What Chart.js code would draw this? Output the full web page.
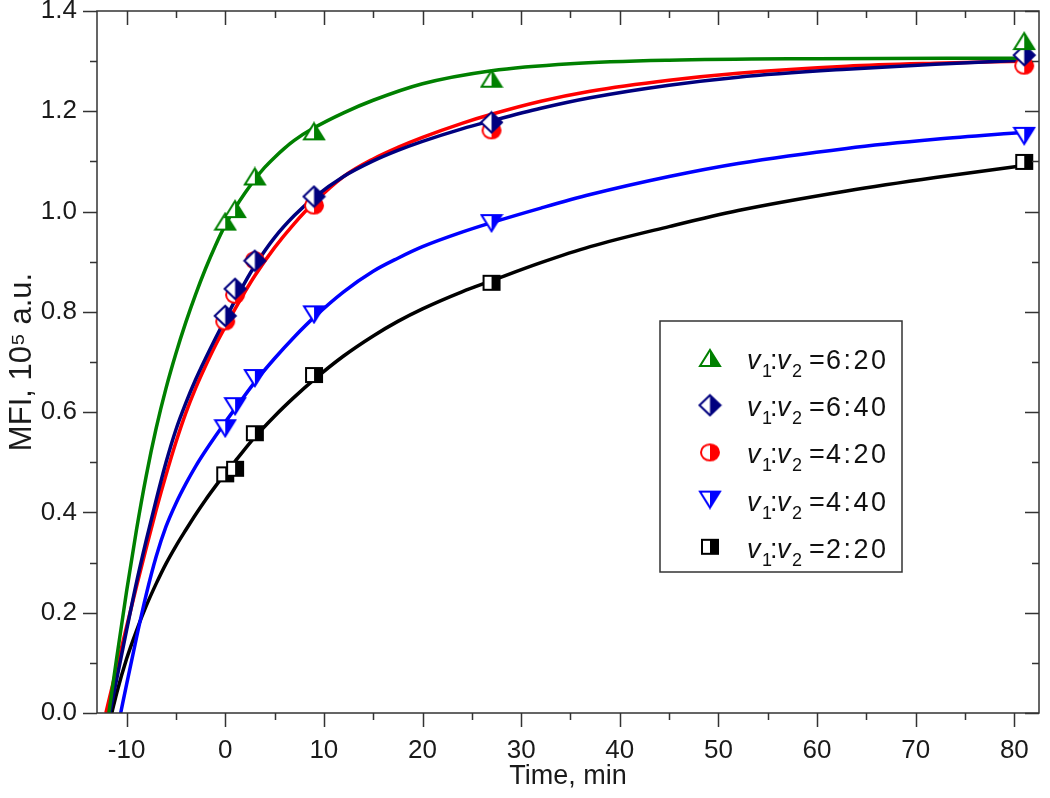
<!DOCTYPE html>
<html>
<head>
<meta charset="utf-8">
<script src="https://cdn.jsdelivr.net/npm/chart.js@4.4.1/dist/chart.umd.min.js"></script>
<style>
  html, body { margin: 0; padding: 0; background: #fff; }
</style>
</head>
<body>
<canvas id="chart" width="1050" height="798"></canvas>
<script>
// sampling times, min
const timePoints = [0, 1, 3, 9, 27, 81];

// measured MFI, 10^5 a.u.
const mfi_6_20 = [0.98, 1.005, 1.07, 1.16, 1.265, 1.34];
const mfi_6_40 = [0.792, 0.846, 0.902, 1.03, 1.178, 1.312];
const mfi_4_20 = [0.781, 0.834, 0.903, 1.012, 1.162, 1.291];
const mfi_4_40 = [0.568, 0.612, 0.668, 0.795, 0.977, 1.151];
const mfi_2_20 = [0.476, 0.487, 0.558, 0.674, 0.858, 1.099];

// fitted curves
const fitX_6_20 = [-11.8, -11, -10, -9, -8, -7, -6, -5, -4, -3, -2, -1, 0, 1, 2, 3, 4, 5, 6, 7, 9, 12, 15, 20, 27, 35, 45, 60, 81];
const fitY_6_20 = [0, 0.11, 0.243, 0.365, 0.474, 0.568, 0.648, 0.717, 0.779, 0.835, 0.886, 0.932, 0.973, 1.007, 1.037, 1.064, 1.088, 1.108, 1.126, 1.142, 1.167, 1.197, 1.222, 1.255, 1.281, 1.295, 1.302, 1.305, 1.306];
const fitX_6_40 = [-11.7, -11, -10, -9, -8, -7, -6, -5, -4, -3, -2, -1, 0, 1, 2, 3, 5, 7, 9, 12, 15, 17.5, 20, 24, 27, 32, 37, 45, 52, 63, 72, 81];
const fitY_6_40 = [0, 0.068, 0.165, 0.26, 0.345, 0.425, 0.5, 0.565, 0.618, 0.665, 0.707, 0.747, 0.785, 0.823, 0.859, 0.892, 0.948, 0.992, 1.028, 1.07, 1.101, 1.122, 1.14, 1.165, 1.181, 1.206, 1.227, 1.252, 1.268, 1.284, 1.294, 1.302];
const fitX_4_20 = [-12.1, -11, -10, -9, -8, -7, -6, -5, -4, -3, -2, -1, 0, 1, 2, 3, 5, 7, 9, 12, 15, 17.5, 20, 24, 27, 32, 37, 45, 52, 63, 72, 81];
const fitY_4_20 = [0, 0.09, 0.172, 0.252, 0.33, 0.405, 0.475, 0.54, 0.598, 0.648, 0.692, 0.733, 0.77, 0.806, 0.84, 0.872, 0.928, 0.976, 1.018, 1.07, 1.105, 1.128, 1.148, 1.176, 1.194, 1.22, 1.24, 1.262, 1.276, 1.29, 1.296, 1.30];
const fitX_4_40 = [-10.6, -10, -9, -8, -7, -6, -5, -4, -3, -2, -1, 0, 1, 3, 5, 7, 9, 12, 15, 17.5, 20, 24, 27, 32, 37, 45, 52, 63, 72, 81];
const fitY_4_40 = [0, 0.057, 0.15, 0.237, 0.312, 0.372, 0.418, 0.457, 0.492, 0.523, 0.552, 0.58, 0.607, 0.66, 0.707, 0.75, 0.789, 0.84, 0.881, 0.907, 0.93, 0.959, 0.978, 1.007, 1.034, 1.07, 1.096, 1.126, 1.144, 1.158];
const fitX_2_20 = [-11.5, -11, -10, -9, -8, -7, -6, -5, -4, -3, -2, -1, 0, 1, 3, 5, 7, 9, 12, 15, 17.5, 20, 24, 27, 32, 37, 45, 52, 63, 72, 81];
const fitY_2_20 = [0, 0.04, 0.108, 0.164, 0.214, 0.258, 0.298, 0.333, 0.365, 0.396, 0.425, 0.452, 0.478, 0.502, 0.55, 0.592, 0.63, 0.665, 0.712, 0.752, 0.781, 0.806, 0.84, 0.862, 0.898, 0.93, 0.97, 1.002, 1.041, 1.068, 1.092];

const ratioLabels = ["6:20", "6:40", "4:20", "4:40", "2:20"];
const seriesColors = ["#008000", "#00007f", "#ff0000", "#0000ff", "#000000"];
const markerShapes = ["triUp", "diamond", "circle", "triDown", "square"];

const xMajorTicks = [-10, 0, 10, 20, 30, 40, 50, 60, 70, 80];
const xMinorTicks = [-5, 5, 15, 25, 35, 45, 55, 65, 75];
const yMajorTicks = [0, 0.2, 0.4, 0.6, 0.8, 1.0, 1.2, 1.4];
const yMinorTicks = [0.1, 0.3, 0.5, 0.7, 0.9, 1.1, 1.3];

const FONT = "'Liberation Sans', Arial, sans-serif";
Chart.defaults.font.family = FONT;
Chart.defaults.color = "#1a1a1a";

// half-filled symbols: open on the left, solid on the right
function makeMarker(shape, color) {
  const sizes = { triUp: [20, 16], diamond: [21, 20], circle: [18, 16], triDown: [20, 16], square: [16, 14] };
  const [w, h] = sizes[shape];
  const c = document.createElement("canvas");
  c.width = w + 4;
  c.height = h + 4;
  const g = c.getContext("2d");
  const l = 2, t = 2, r = 2 + w, b = 2 + h, cx = 2 + w / 2, cy = 2 + h / 2;
  const path = () => {
    g.beginPath();
    if (shape === "triUp") { g.moveTo(cx, t); g.lineTo(r, b); g.lineTo(l, b); g.closePath(); }
    else if (shape === "triDown") { g.moveTo(l, t); g.lineTo(r, t); g.lineTo(cx, b); g.closePath(); }
    else if (shape === "diamond") { g.moveTo(cx, t); g.lineTo(r, cy); g.lineTo(cx, b); g.lineTo(l, cy); g.closePath(); }
    else if (shape === "circle") { g.ellipse(cx, cy, w / 2, h / 2, 0, 0, Math.PI * 2); }
    else { g.rect(l, t, w, h); }
  };
  path();
  g.fillStyle = "#fff";
  g.fill();
  g.save();
  g.beginPath();
  g.rect(cx, 0, c.width, c.height);
  g.clip();
  path();
  g.fillStyle = color;
  g.fill();
  g.restore();
  path();
  g.lineWidth = 2;
  g.strokeStyle = color;
  g.stroke();
  return c;
}

const markers = markerShapes.map((s, i) => makeMarker(s, seriesColors[i]));

const pointSets = [mfi_6_20, mfi_6_40, mfi_4_20, mfi_4_40, mfi_2_20];
const fitSets = [
  [fitX_6_20, fitY_6_20],
  [fitX_6_40, fitY_6_40],
  [fitX_4_20, fitY_4_20],
  [fitX_4_40, fitY_4_40],
  [fitX_2_20, fitY_2_20],
];

const datasets = [];
pointSets.forEach((vals, i) => {
  datasets.push({
    label: ratioLabels[i],
    data: timePoints.map((t, k) => ({ x: t, y: vals[k] })),
    showLine: false,
    pointStyle: markers[i],
    pointRadius: 10,
    pointHoverRadius: 10,
    order: i,
  });
});
fitSets.forEach(([xs, ys], i) => {
  datasets.push({
    label: ratioLabels[i] + " fit",
    data: xs.map((x, k) => ({ x, y: ys[k] })),
    borderColor: seriesColors[i],
    borderWidth: 3.5,
    pointRadius: 0,
    pointHoverRadius: 0,
    cubicInterpolationMode: "monotone",
    fill: false,
    order: 5 + i,
  });
});

// frame with outward ticks bottom/left, inward ticks top/right
const axisFrame = {
  id: "axisFrame",
  afterDatasetsDraw(chart) {
    const { ctx, chartArea: a, scales: { x, y } } = chart;
    ctx.save();
    ctx.strokeStyle = "#333";
    ctx.lineWidth = 1.5;
    ctx.strokeRect(a.left, a.top, a.right - a.left, a.bottom - a.top);
    ctx.beginPath();
    const xt = (vals, len) => vals.forEach(v => {
      const px = Math.round(x.getPixelForValue(v)) + 0.5;
      ctx.moveTo(px, a.bottom); ctx.lineTo(px, a.bottom + len);
      ctx.moveTo(px, a.top); ctx.lineTo(px, a.top + len);
    });
    const yt = (vals, len) => vals.forEach(v => {
      const py = Math.round(y.getPixelForValue(v)) + 0.5;
      ctx.moveTo(a.left, py); ctx.lineTo(a.left - len, py);
      ctx.moveTo(a.right, py); ctx.lineTo(a.right - len, py);
    });
    xt(xMajorTicks, 14);
    xt(xMinorTicks, 7);
    yt(yMajorTicks, 14);
    yt(yMinorTicks, 7);
    ctx.stroke();
    ctx.restore();
  },
};

// boxed legend inside the plot, v1:v2 with italic v and subscripts
const ratioLegend = {
  id: "ratioLegend",
  afterDraw(chart) {
    const { ctx } = chart;
    const box = { x: 660, y: 321, w: 242, h: 251 };
    ctx.save();
    ctx.fillStyle = "#fff";
    ctx.fillRect(box.x, box.y, box.w, box.h);
    ctx.strokeStyle = "#333";
    ctx.lineWidth = 1.5;
    ctx.strokeRect(box.x, box.y, box.w, box.h);
    ctx.fillStyle = "#111";
    ctx.textBaseline = "alphabetic";
    ratioLabels.forEach((lab, i) => {
      const cy = 358 + i * 47.2;
      const m = markers[i];
      ctx.drawImage(m, 710 - m.width / 2, cy - m.height / 2);
      const x0 = 747, base = cy + 11;
      ctx.font = "italic 27px " + FONT;
      ctx.fillText("v", x0, base);
      ctx.fillText("v", x0 + 30, base);
      ctx.font = "18px " + FONT;
      ctx.fillText("1", x0 + 15, base + 8);
      ctx.fillText("2", x0 + 45, base + 8);
      ctx.font = "27px " + FONT;
      ctx.fillText(":", x0 + 23, base);
      ctx.fillText("=", x0 + 62, base);
      ctx.letterSpacing = "2.5px";
      ctx.fillText(lab, x0 + 79, base);
      ctx.letterSpacing = "0px";
    });
    ctx.restore();
  },
};

new Chart(document.getElementById("chart"), {
  type: "line",
  data: { datasets },
  options: {
    responsive: false,
    animation: false,
    events: [],
    layout: { padding: { top: 11, right: 5, left: 0, bottom: 0 } },
    plugins: { legend: { display: false }, tooltip: { enabled: false } },
    scales: {
      x: {
        type: "linear",
        min: -13,
        max: 82.5,
        afterBuildTicks: (s) => { s.ticks = xMajorTicks.map(v => ({ value: v })); },
        afterFit: (s) => { s.height = 85; s.paddingLeft = 0; s.paddingRight = 0; },
        grid: { display: false, drawTicks: false },
        border: { display: false },
        ticks: { padding: 22, autoSkip: false, maxRotation: 0, font: { size: 26 }, callback: v => String(v) },
        title: { display: true, text: "Time, min", font: { size: 27 }, padding: { top: 0, bottom: 5 } },
      },
      y: {
        type: "linear",
        min: 0,
        max: 1.4,
        afterBuildTicks: (s) => { s.ticks = yMajorTicks.map(v => ({ value: v })); },
        afterFit: (s) => { s.width = 97; s.paddingTop = 0; s.paddingBottom = 0; },
        grid: { display: false, drawTicks: false },
        border: { display: false },
        ticks: { padding: 20, autoSkip: false, font: { size: 26 }, callback: v => v.toFixed(1) },
        title: { display: true, text: "MFI, 10\u2075 a.u.", font: { size: 31 }, padding: { top: 4, bottom: 0 } },
      },
    },
  },
  plugins: [axisFrame, ratioLegend],
});
</script>
</body>
</html>
